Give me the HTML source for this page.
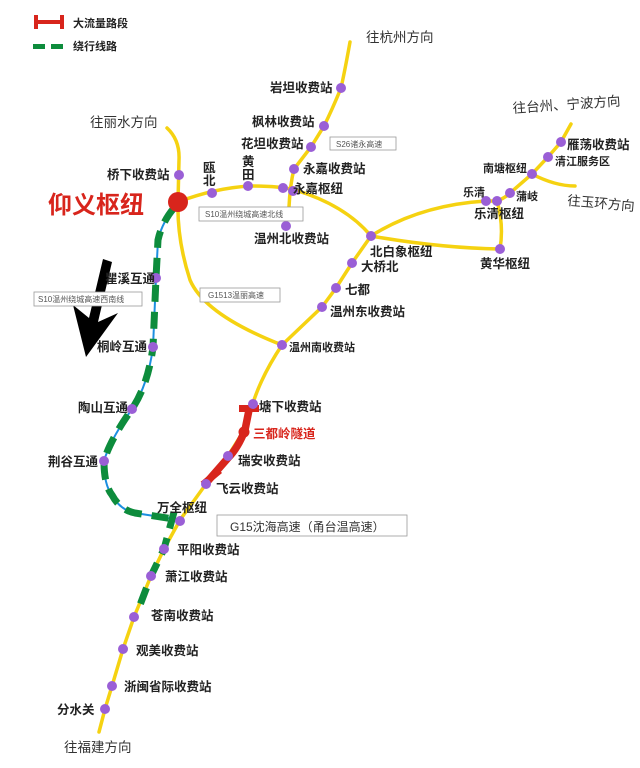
<!DOCTYPE html>
<html><head><meta charset="utf-8"><style>
html,body{margin:0;padding:0;background:#fff;}
svg{display:block}
text{font-family:"Liberation Sans","Noto Sans CJK SC",sans-serif;font-weight:bold;fill:#222;font-size:12.5px}
.d{font-weight:normal;font-size:13.5px;fill:#333}
.bx{font-weight:normal;font-size:8px;fill:#555}
</style></head><body>
<svg width="640" height="768" viewBox="0 0 640 768">
<!-- legend -->
<rect x="34" y="20" width="30" height="4" fill="#d8251c"/><rect x="34" y="15" width="4" height="14" fill="#d8251c"/><rect x="60" y="15" width="4" height="14" fill="#d8251c"/>
<text x="73" y="27" style="font-size:11px">大流量路段</text>
<rect x="33" y="44" width="12" height="5" fill="#0d8c3c"/><rect x="51" y="44" width="12" height="5" fill="#0d8c3c"/>
<text x="73" y="50" style="font-size:11px">绕行线路</text>
<g fill="none" stroke="#f5d211" stroke-width="3.5" stroke-linecap="round">
<path d="M167,128 Q180,140 179,160 L178,202"/>
<path d="M178,202 Q215,188 250,186 Q280,186 295,190 Q345,205 371,236"/>
<path d="M350,42 Q345,70 341,88 Q332,110 324,126 L311,147 L294,169 Q290,185 289,207"/>
<path d="M371,236 L352,263 L336,288 L322,307 L282,345 Q262,375 253,403 L243,432 L228,456 L206,484 L180,520 L164,549 L151,576 L134,617 L123,649 L112,686 L105,709 L99,732"/>
<path d="M371,236 Q420,205 486,201 L497,201 Q505,198 510,193 L532,174 L548,157 L561,142 L571,124"/>
<path d="M532,174 Q555,186 575,186"/>
<path d="M371,236 Q440,248 500,249 Q504,225 497,201"/>
<path d="M178,202 Q177,240 190,280 Q205,315 282,345"/>
</g>
<path d="M178,202 Q162,222 158,240 L156,278 L153,347 Q148,385 132,409 Q110,440 104,461 Q104,485 112,495 Q120,510 135,513 L180,520" fill="none" stroke="#1c8fe0" stroke-width="2"/>
<path d="M174,208 Q162,222 158,240 L156,278 L153,347 Q148,385 132,409 Q110,440 104,461 Q104,485 112,495 Q120,510 135,513 L180,520" fill="none" stroke="#0d8c3c" stroke-width="7" stroke-dasharray="17,10"/>
<path d="M174,512 L164,549 L151,576 L140,605" fill="none" stroke="#0d8c3c" stroke-width="7" stroke-dasharray="17,10"/>
<!-- red -->
<path d="M249,410 L245,430 Q238,448 228,458 L207,482" fill="none" stroke="#d8251c" stroke-width="7.5"/>
<rect x="239" y="405" width="20" height="7" fill="#d8251c"/>
<rect x="200" y="474" width="22" height="7" fill="#d8251c" transform="rotate(-40 211 477)"/>
<circle cx="244" cy="432" r="5.5" fill="#d8251c"/>
<!-- nodes -->
<g fill="#9a5fd6">
<circle cx="179" cy="175" r="5"/><circle cx="212" cy="193" r="5"/><circle cx="248" cy="186" r="5"/><circle cx="283" cy="188" r="5"/><circle cx="293" cy="191" r="5"/>
<circle cx="286" cy="226" r="5"/><circle cx="341" cy="88" r="5"/><circle cx="324" cy="126" r="5"/><circle cx="311" cy="147" r="5"/><circle cx="294" cy="169" r="5"/>
<circle cx="371" cy="236" r="5"/><circle cx="352" cy="263" r="5"/><circle cx="336" cy="288" r="5"/><circle cx="322" cy="307" r="5"/><circle cx="282" cy="345" r="5"/>
<circle cx="253" cy="404" r="5"/><circle cx="228" cy="456" r="5"/><circle cx="206" cy="484" r="5"/><circle cx="180" cy="521" r="5"/><circle cx="164" cy="549" r="5"/>
<circle cx="151" cy="576" r="5"/><circle cx="134" cy="617" r="5"/><circle cx="123" cy="649" r="5"/><circle cx="112" cy="686" r="5"/><circle cx="105" cy="709" r="5"/>
<circle cx="486" cy="201" r="5"/><circle cx="497" cy="201" r="5"/><circle cx="510" cy="193" r="5"/><circle cx="532" cy="174" r="5"/><circle cx="548" cy="157" r="5"/><circle cx="561" cy="142" r="5"/><circle cx="500" cy="249" r="5"/>
<circle cx="156" cy="278" r="5"/><circle cx="153" cy="347" r="5"/><circle cx="132" cy="409" r="5"/><circle cx="104" cy="461" r="5"/>
</g>
<circle cx="178" cy="202" r="10" fill="#d8251c"/>
<!-- arrow -->
<polygon points="103,259 112,262 98,322 118,313 86,357 73,305 89,318" fill="#000"/>
<!-- boxes -->
<g fill="#fff" stroke="#999" stroke-width="0.8">
<rect x="199" y="207" width="104" height="14"/><rect x="34" y="292" width="108" height="14"/><rect x="200" y="288" width="80" height="14"/><rect x="330" y="137" width="66" height="13"/><rect x="217" y="515" width="190" height="21"/>
</g>
<text class="bx" x="205" y="217">S10温州绕城高速北线</text>
<text class="bx" x="38" y="302">S10温州绕城高速西南线</text>
<text class="bx" x="208" y="298">G1513温丽高速</text>
<text class="bx" x="336" y="147">S26诸永高速</text>
<text class="d" x="230" y="531" style="font-size:12px">G15沈海高速（甬台温高速）</text>
<!-- labels -->
<text x="48" y="213" style="font-size:24px;fill:#d8251c">仰义枢纽</text>
<text class="d" x="90" y="127">往丽水方向</text>
<text class="d" x="366" y="42">往杭州方向</text>
<text class="d" x="513" y="113" transform="rotate(-4 513 113)">往台州、宁波方向</text>
<text class="d" x="567" y="205" transform="rotate(5 567 205)">往玉环方向</text>
<text class="d" x="64" y="752">往福建方向</text>
<text x="107" y="179">桥下收费站</text>
<text x="203" y="172">瓯</text><text x="203" y="185">北</text>
<text x="242" y="166">黄</text><text x="242" y="179">田</text>
<text x="270" y="92">岩坦收费站</text>
<text x="252" y="126">枫林收费站</text>
<text x="241" y="148">花坦收费站</text>
<text x="303" y="173">永嘉收费站</text>
<text x="293" y="193">永嘉枢纽</text>
<text x="254" y="243">温州北收费站</text>
<text x="370" y="256">北白象枢纽</text>
<text x="361" y="271">大桥北</text>
<text x="345" y="294">七都</text>
<text x="330" y="316">温州东收费站</text>
<text x="289" y="351" style="font-size:11px">温州南收费站</text>
<text x="259" y="411">塘下收费站</text>
<text x="253" y="438" style="fill:#d8251c">三都岭隧道</text>
<text x="238" y="465">瑞安收费站</text>
<text x="216" y="493">飞云收费站</text>
<text x="157" y="512">万全枢纽</text>
<text x="177" y="554">平阳收费站</text>
<text x="165" y="581">萧江收费站</text>
<text x="151" y="620">苍南收费站</text>
<text x="136" y="655">观美收费站</text>
<text x="124" y="691">浙闽省际收费站</text>
<text x="57" y="714">分水关</text>
<text x="105" y="283">瞿溪互通</text>
<text x="97" y="351">桐岭互通</text>
<text x="78" y="412">陶山互通</text>
<text x="48" y="466">荆谷互通</text>
<text x="463" y="196" style="font-size:11px">乐清</text>
<text x="474" y="218">乐清枢纽</text>
<text x="516" y="200" style="font-size:11px">蒲岐</text>
<text x="483" y="172" style="font-size:11px">南塘枢纽</text>
<text x="555" y="165" style="font-size:11px">清江服务区</text>
<text x="567" y="149">雁荡收费站</text>
<text x="480" y="268">黄华枢纽</text>
</svg>
</body></html>
